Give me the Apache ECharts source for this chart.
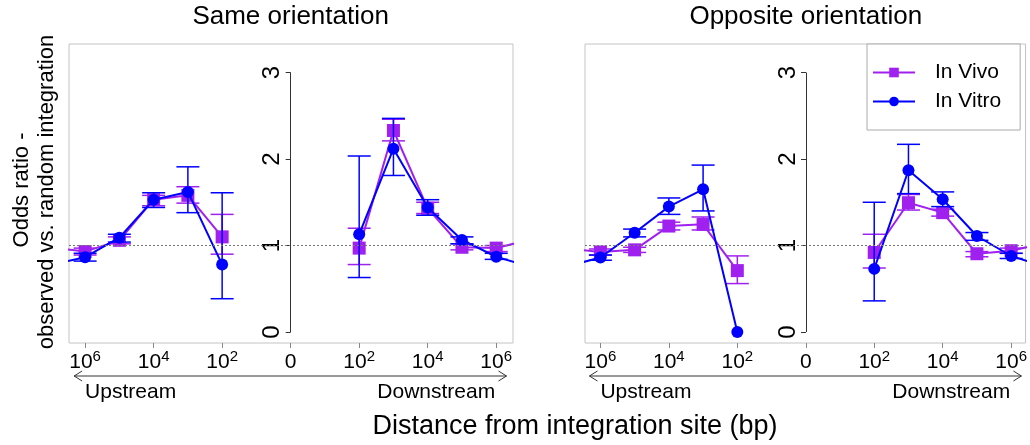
<!DOCTYPE html>
<html>
<head>
<meta charset="utf-8">
<script src="https://cdn.jsdelivr.net/npm/echarts@6/dist/echarts.min.js"></script>
<style>
  html, body { margin: 0; padding: 0; background: #fff; }
  #chart { width: 1030px; height: 445px; }
</style>
</head>
<body>
<div id="chart"></div>
<script>
// x position = log10 distance, upstream negative; -7 / 7 are the points past 10^6 (only their line shows)
const xPos = [-7, -6, -5, -4, -3, -2, 2, 3, 4, 5, 6, 7]
const xTicks = [-6, -4, -2, 0, 2, 4, 6]
const xTickLabels = ['10^6', '10^4', '10^2', '0', '10^2', '10^4', '10^6']
const yTicks = [0, 1, 2, 3]

const panelTitles = ['Same orientation', 'Opposite orientation']
const seriesNames = ['In Vivo', 'In Vitro']

// Same orientation
const sameVivo = [0.98, 0.93, 1.06, 1.53, 1.58, 1.10, 0.97, 2.33, 1.43, 0.98, 0.97, 1.07]
const sameVivoLo = [null, 0.89, 1.02, 1.46, 1.49, 0.90, 0.78, 2.21, 1.37, 0.95, 0.93, null]
const sameVivoHi = [null, 0.97, 1.10, 1.58, 1.68, 1.36, 1.20, 2.46, 1.50, 1.02, 1.00, null]
const sameVitro = [0.775, 0.865, 1.09, 1.53, 1.62, 0.78, 1.13, 2.12, 1.44, 1.065, 0.87, 0.755]
const sameVitroLo = [null, 0.82, 1.04, 1.44, 1.38, 0.385, 0.63, 1.81, 1.35, 1.02, 0.84, null]
const sameVitroHi = [null, 0.91, 1.13, 1.61, 1.91, 1.61, 2.035, 2.47, 1.53, 1.10, 0.91, null]

// Opposite orientation
const oppVivo = [0.97, 0.925, 0.95, 1.225, 1.245, 0.71, 0.92, 1.495, 1.38, 0.905, 0.94, 1.03]
const oppVivoLo = [null, 0.89, 0.92, 1.18, 1.18, 0.56, 0.74, 1.41, 1.34, 0.87, 0.91, null]
const oppVivoHi = [null, 0.96, 0.98, 1.27, 1.33, 0.88, 1.13, 1.59, 1.42, 0.93, 0.97, null]
const oppVitro = [0.755, 0.862, 1.148, 1.45, 1.65, 0.0, 0.73, 1.87, 1.535, 1.11, 0.879, 0.753]
const oppVitroLo = [null, 0.83, 1.10, 1.36, 1.40, null, 0.36, 1.60, 1.45, 1.06, 0.85, null]
const oppVitroHi = [null, 0.89, 1.19, 1.55, 1.93, null, 1.50, 2.17, 1.62, 1.15, 0.91, null]

const PURPLE = '#a020f0'
const BLUE = '#0000ff'
const FONT = 'Liberation Sans, Arial, sans-serif'

const chart = echarts.init(document.getElementById('chart'))

const grids = [
  { left: 69, top: 44, width: 444, height: 299 },
  { left: 585, top: 44, width: 441, height: 299 }
]
const xRanges = [[-6.47, 6.49], [-6.45, 6.42]]
const yRange = [-0.127, 3.33]

function lineData(vals) {
  const out = []
  xPos.forEach((x, i) => {
    if (i > 0 && xPos[i - 1] < 0 && x > 0) out.push([0, '-'])
    out.push([x, vals[i]])
  })
  return out
}

function errData(lo, hi) {
  const out = []
  xPos.forEach((x, i) => {
    if (lo[i] != null && hi[i] != null) out.push([x, lo[i], hi[i]])
  })
  return out
}

function errRender(color) {
  return function (params, api) {
    const a = api.coord([api.value(0), api.value(1)])
    const b = api.coord([api.value(0), api.value(2)])
    const w = 11.5
    const st = { stroke: color, lineWidth: 1.5 }
    return {
      type: 'group',
      children: [
        { type: 'line', shape: { x1: a[0], y1: a[1], x2: b[0], y2: b[1] }, style: st },
        { type: 'line', shape: { x1: a[0] - w, y1: a[1], x2: a[0] + w, y2: a[1] }, style: st },
        { type: 'line', shape: { x1: b[0] - w, y1: b[1], x2: b[0] + w, y2: b[1] }, style: st }
      ]
    }
  }
}

function tickLabel(v) {
  const i = xTicks.indexOf(v)
  if (i < 0) return ''
  const parts = xTickLabels[i].split('^')
  return parts.length > 1 ? `{b|${parts[0]}}{s|${parts[1]}}` : `{b|${parts[0]}}`
}

const panels = [
  { vivo: sameVivo, vivoLo: sameVivoLo, vivoHi: sameVivoHi, vitro: sameVitro, vitroLo: sameVitroLo, vitroHi: sameVitroHi },
  { vivo: oppVivo, vivoLo: oppVivoLo, vivoHi: oppVivoHi, vitro: oppVitro, vitroLo: oppVitroLo, vitroHi: oppVitroHi }
]

const xAxes = grids.map((g, i) => ({
  type: 'value',
  gridIndex: i,
  min: xRanges[i][0],
  max: xRanges[i][1],
  axisLine: { show: false, onZero: false },
  splitLine: { show: false },
  axisTick: { show: true, customValues: xTicks, length: 5, lineStyle: { color: '#888' } },
  axisLabel: {
    customValues: xTicks,
    margin: 6,
    color: '#000',
    formatter: tickLabel,
    rich: {
      b: { fontSize: 21, fontFamily: FONT, lineHeight: 26, color: '#000' },
      s: { fontSize: 15, fontFamily: FONT, verticalAlign: 'top', color: '#000' }
    }
  }
}))

// y axis sits at x = 0 inside each panel
const yAxes = grids.map((g, i) => ({
  type: 'value',
  gridIndex: i,
  min: yRange[0],
  max: yRange[1],
  offset: -(0 - xRanges[i][0]) / (xRanges[i][1] - xRanges[i][0]) * g.width,
  axisLine: { show: false },
  splitLine: { show: false },
  axisTick: { show: true, customValues: yTicks, length: 5, lineStyle: { color: '#333' } },
  axisLabel: {
    customValues: yTicks,
    rotate: 90,
    margin: 6,
    fontSize: 24,
    fontFamily: FONT,
    color: '#000'
  }
}))

const series = []
panels.forEach((p, i) => {
  series.push({
    type: 'custom', xAxisIndex: i, yAxisIndex: i, silent: true,
    data: errData(p.vivoLo, p.vivoHi), renderItem: errRender(PURPLE), z: 2
  })
  series.push({
    name: seriesNames[0], type: 'line', xAxisIndex: i, yAxisIndex: i,
    data: lineData(p.vivo), symbol: 'rect', symbolSize: 13,
    itemStyle: { color: PURPLE }, lineStyle: { color: PURPLE, width: 2 },
    connectNulls: false, clip: true, z: 2,
    markLine: {
      silent: true, symbol: ['none', 'none'], label: { show: false }, animation: false,
      data: [
        { yAxis: 1, lineStyle: { color: '#777', type: [2, 2], width: 1 } },
        [
          { coord: [0, 0], lineStyle: { color: '#333', type: 'solid', width: 1 } },
          { coord: [0, 3], lineStyle: { color: '#333', type: 'solid', width: 1 } }
        ]
      ]
    }
  })
  series.push({
    type: 'custom', xAxisIndex: i, yAxisIndex: i, silent: true,
    data: errData(p.vitroLo, p.vitroHi), renderItem: errRender(BLUE), z: 3
  })
  series.push({
    name: seriesNames[1], type: 'line', xAxisIndex: i, yAxisIndex: i,
    data: lineData(p.vitro), symbol: 'circle', symbolSize: 12,
    itemStyle: { color: BLUE }, lineStyle: { color: BLUE, width: 2 },
    connectNulls: false, clip: true, z: 3
  })
})

chart.setOption({
  animation: false,
  grid: grids.map(g => Object.assign({ show: true, borderColor: '#c4c4c4', borderWidth: 1, containLabel: false }, g)),
  xAxis: xAxes,
  yAxis: yAxes,
  legend: {
    data: seriesNames,
    orient: 'vertical',
    left: 867,
    top: 44,
    padding: [18, 19, 18, 5],
    itemGap: 8,
    itemWidth: 42,
    itemHeight: 12,
    borderColor: '#aaa',
    borderWidth: 1,
    backgroundColor: '#fff',
    textStyle: { fontSize: 21, fontFamily: FONT, color: '#000', padding: [0, 0, 0, 15] }
  },
  series
})

// annotations placed from the axis scales
const gfx = []
grids.forEach((g, i) => {
  const px = v => chart.convertToPixel({ gridIndex: i }, [v, 0])[0]
  const ay = 376
  const x1 = px(-6.32)
  const x2 = px(6.3)
  const ls = { stroke: '#333', lineWidth: 1 }
  gfx.push({ type: 'line', shape: { x1, y1: ay, x2, y2: ay }, style: ls })
  gfx.push({ type: 'polyline', shape: { points: [[x1 + 8, ay - 5], [x1, ay], [x1 + 8, ay + 5]] }, style: Object.assign({ fill: null }, ls) })
  gfx.push({ type: 'polyline', shape: { points: [[x2 - 8, ay - 5], [x2, ay], [x2 - 8, ay + 5]] }, style: Object.assign({ fill: null }, ls) })
  gfx.push({ type: 'text', x: px(-6), y: 392, style: { text: 'Upstream', fontSize: 21, fontFamily: FONT, fill: '#000', textAlign: 'left', textVerticalAlign: 'middle' } })
  gfx.push({ type: 'text', x: px(6) - 1, y: 392, style: { text: 'Downstream', fontSize: 21, fontFamily: FONT, fill: '#000', textAlign: 'right', textVerticalAlign: 'middle' } })
  gfx.push({ type: 'text', x: px(0), y: 17, style: { text: panelTitles[i], fontSize: 26, fontFamily: FONT, fill: '#000', textAlign: 'center', textVerticalAlign: 'middle' } })
})
gfx.push({ type: 'text', x: 575, y: 427, style: { text: 'Distance from integration site (bp)', fontSize: 27, fontFamily: FONT, fill: '#000', textAlign: 'center', textVerticalAlign: 'middle' } })
gfx.push({ type: 'text', x: 22, y: 190, rotation: Math.PI / 2, style: { text: 'Odds ratio -', fontSize: 22, fontFamily: FONT, fill: '#000', textAlign: 'center', textVerticalAlign: 'middle' } })
gfx.push({ type: 'text', x: 47, y: 192, rotation: Math.PI / 2, style: { text: 'observed vs. random integration', fontSize: 22, fontFamily: FONT, fill: '#000', textAlign: 'center', textVerticalAlign: 'middle' } })

chart.setOption({ graphic: { elements: gfx } })
</script>
</body>
</html>
